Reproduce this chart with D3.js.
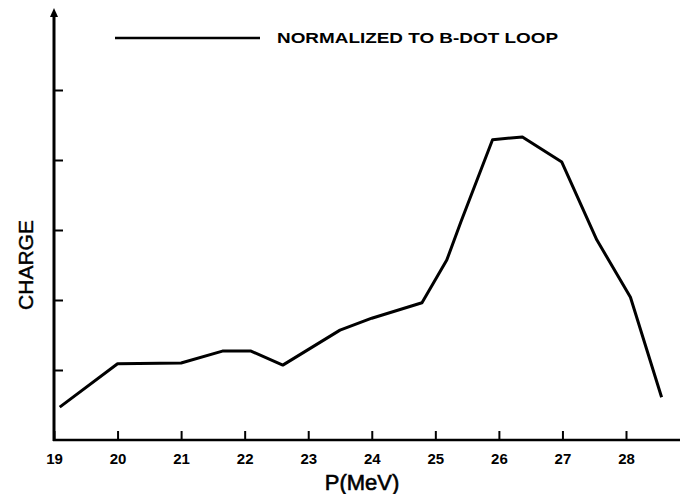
<!DOCTYPE html>
<html>
<head>
<meta charset="utf-8">
<script src="https://cdn.jsdelivr.net/npm/d3@7"></script>
<style>
  html, body { margin: 0; padding: 0; background: #fff; }
  svg { display: block; font-family: "Liberation Sans", "DejaVu Sans", sans-serif; }
</style>
</head>
<body>
<div id="chart"></div>
<script>
// momentum (MeV) and normalized charge
const momentum = [19.09, 20.0, 21.0, 21.65, 22.1, 22.6, 23.5, 24.0, 24.79, 25.18, 25.4, 25.9, 26.37, 26.99, 27.54, 28.07, 28.56];
const charge   = [0.47, 1.09, 1.10, 1.27, 1.27, 1.07, 1.57, 1.74, 1.96, 2.57, 3.11, 4.29, 4.33, 3.97, 2.86, 2.04, 0.61];
const xTicks = [19, 20, 21, 22, 23, 24, 25, 26, 27, 28];
const yTicks = [1, 2, 3, 4, 5];
const legendLabel = 'NORMALIZED TO B-DOT LOOP';

const W = 681, H = 494;
const svg = d3.select('#chart').append('svg').attr('width', W).attr('height', H);

const x = d3.scaleLinear().domain([19, 28]).range([54, 626]);
const y = d3.scaleLinear().domain([0, 5]).range([440, 90]);

// x axis
const xAxis = svg.append('g')
  .attr('transform', `translate(0,${y(0)})`)
  .call(d3.axisBottom(x).tickValues(xTicks).tickSize(-9).tickPadding(13).tickFormat(d3.format('d')));
xAxis.select('.domain').remove();
xAxis.append('line')
  .attr('x1', x(19) - 1).attr('x2', 680)
  .attr('stroke', '#000').attr('stroke-width', 2.5);
xAxis.selectAll('.tick line').attr('stroke', '#000').attr('stroke-width', 2);
xAxis.selectAll('.tick text')
  .attr('fill', '#000').attr('font-size', 15).attr('font-weight', 'bold');

// y axis
const yAxis = svg.append('g')
  .attr('transform', `translate(${x(19)},0)`)
  .call(d3.axisLeft(y).tickValues(yTicks).tickSize(-9).tickFormat(''));
yAxis.select('.domain').remove();
yAxis.append('line')
  .attr('y1', y(0) + 1).attr('y2', 14)
  .attr('stroke', '#000').attr('stroke-width', 3);
yAxis.append('path')
  .attr('d', 'M0,8 L-4,17 L4,17 Z')
  .attr('fill', '#000');
yAxis.selectAll('.tick line').attr('stroke', '#000').attr('stroke-width', 2);

// data line
svg.append('path')
  .datum(momentum.map((m, i) => [m, charge[i]]))
  .attr('fill', 'none')
  .attr('stroke', '#000')
  .attr('stroke-width', 3)
  .attr('stroke-linejoin', 'round')
  .attr('d', d3.line().x(d => x(d[0])).y(d => y(d[1])));

// legend
svg.append('line')
  .attr('x1', 115).attr('x2', 260).attr('y1', 38).attr('y2', 38)
  .attr('stroke', '#000').attr('stroke-width', 2.5);
svg.append('text')
  .attr('x', 277).attr('y', 43)
  .attr('font-size', 14).attr('font-weight', 'bold')
  .attr('textLength', 281).attr('lengthAdjust', 'spacingAndGlyphs')
  .text(legendLabel);

// axis titles
svg.append('text')
  .attr('x', 362).attr('y', 490)
  .attr('text-anchor', 'middle')
  .attr('font-size', 22)
  .attr('stroke', '#000').attr('stroke-width', 0.6)
  .text('P(MeV)');
svg.append('text')
  .attr('transform', 'translate(33,265) rotate(-90)')
  .attr('text-anchor', 'middle')
  .attr('font-size', 21)
  .attr('stroke', '#000').attr('stroke-width', 0.4)
  .text('CHARGE');
</script>
</body>
</html>
